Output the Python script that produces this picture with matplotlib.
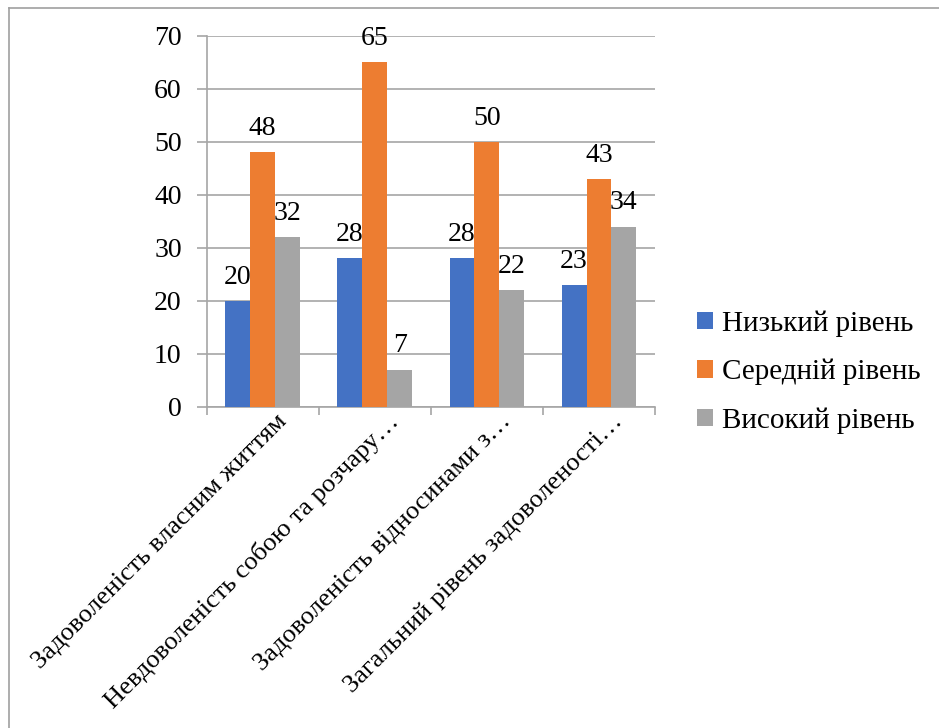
import matplotlib
matplotlib.use("Agg")
import matplotlib.pyplot as plt
from matplotlib.lines import Line2D
from matplotlib.patches import Patch
from matplotlib.font_manager import FontProperties
from matplotlib.transforms import ScaledTranslation
import numpy as np

categories = [
    "Задоволеність власним життям",
    "Невдоволеність собою та розчару…",
    "Задоволеність відносинами з…",
    "Загальний рівень задоволеності…",
]
series_names = ["Низький рівень", "Середній рівень", "Високий рівень"]
low = [20, 28, 28, 23]
medium = [48, 65, 50, 43]
high = [32, 7, 22, 34]
y_ticks = [0, 10, 20, 30, 40, 50, 60, 70]

colors = ["#4472C4", "#ED7D31", "#A5A5A5"]
grid_color = "#A6A6A6"
FAMILY = "Liberation Serif"

W, H = 939, 728
DPI = 100
fig = plt.figure(figsize=(W / DPI, H / DPI), dpi=DPI)
fig.patch.set_facecolor("white")

# outer chart-area border (left and top edges)
fig.add_artist(Line2D([8.5 / W, 8.5 / W], [0, 1 - 7.5 / H], transform=fig.transFigure,
                      color="#A0A0A0", lw=1.2))
fig.add_artist(Line2D([8.5 / W, 1], [1 - 7.5 / H, 1 - 7.5 / H], transform=fig.transFigure,
                      color="#A0A0A0", lw=1.2))

left, right = 206.7 / W, 655 / W
bottom, top = 1 - 406.7 / H, 1 - 35.7 / H
ax = fig.add_axes([left, bottom, right - left, top - bottom])

x = np.arange(len(categories))
bw = 0.222
for i, (vals, name) in enumerate(zip([low, medium, high], series_names)):
    pos = x + (i - 1) * bw
    ax.bar(pos, vals, width=bw, color=colors[i], label=name, zorder=3)
    for xp, v in zip(pos, vals):
        ax.annotate(str(v), (xp, v), xytext=(0, 8), textcoords="offset points",
                    ha="center", va="bottom", fontsize=20, fontfamily=FAMILY,
                    color="black", zorder=4)

ax.set_ylim(0, 70)
ax.set_xlim(-0.5, len(categories) - 0.5)
ax.set_yticks(y_ticks)
ax.set_yticklabels([str(t) for t in y_ticks], fontsize=20, fontfamily=FAMILY)
ax.yaxis.grid(True, color=grid_color, lw=1.2, zorder=0)
ax.set_axisbelow(True)

# category labels: rotated 45°, each ending just below-right of its category centre
ax.set_xticks(x)
ax.set_xticklabels([])
label_trans = ax.get_xaxis_transform() + ScaledTranslation(25 / DPI, -16 / DPI,
                                                           fig.dpi_scale_trans)
for xi, cat in zip(x, categories):
    ax.text(xi, 0, cat, transform=label_trans, rotation=45, rotation_mode="anchor",
            ha="right", va="baseline", fontsize=19, fontfamily=FAMILY,
            color="black", clip_on=False)

ax.set_xticks(np.arange(-0.5, len(categories), 1.0), minor=True)
ax.tick_params(axis="x", which="major", length=0, pad=0)
ax.tick_params(axis="x", which="minor", length=6, color=grid_color, width=1.2)
ax.tick_params(axis="y", length=7, color=grid_color, width=1.2, pad=11)

for s in ["top", "right"]:
    ax.spines[s].set_visible(False)
for s in ["left", "bottom"]:
    ax.spines[s].set_color(grid_color)
    ax.spines[s].set_linewidth(1.2)

handles = [Patch(facecolor=c, edgecolor="none") for c in colors]
fig.legend(handles, series_names, loc="center left",
           bbox_to_anchor=(697 / W, 1 - 372 / H), frameon=False,
           prop=FontProperties(family=FAMILY, size=21),
           handlelength=0.55, handleheight=0.55,
           handletextpad=0.3, labelspacing=0.75, borderpad=0, borderaxespad=0)

fig.savefig("out.png", dpi=DPI, facecolor="white")
